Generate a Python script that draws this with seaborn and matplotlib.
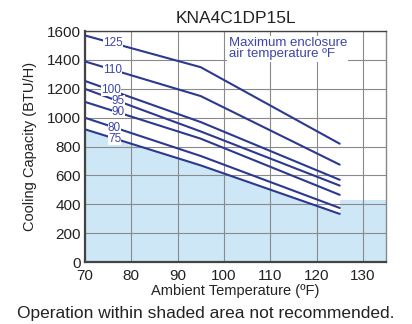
import pandas as pd
import matplotlib.pyplot as plt
import seaborn as sns

# Ambient temperature points (ºF) and capacity (BTU/H) per max enclosure temperature
ambient = [70, 95, 125]
enclosure_temps = ["125", "110", "100", "95", "90", "80", "75"]
cap_125 = [1570, 1350, 820]
cap_110 = [1390, 1150, 675]
cap_100 = [1255, 970, 570]
cap_95 = [1200, 905, 530]
cap_90 = [1110, 855, 466]
cap_80 = [1000, 735, 375]
cap_75 = [920, 670, 334]

# shaded "not recommended" area on the right
shade_right_x = [125, 135]
shade_right_y = [430, 430]

LINE = "#2b3990"
TXT = "#3d45a8"
SHADE = "#cde7f6"

curves = [cap_125, cap_110, cap_100, cap_95, cap_90, cap_80, cap_75]
df = pd.DataFrame({
    "ambient": ambient * len(curves),
    "capacity": [v for c in curves for v in c],
    "enc": [t for t in enclosure_temps for _ in ambient],
})

sns.set_style("white")
plt.rcParams['font.family'] = ['Liberation Sans', 'DejaVu Sans']

fig = plt.figure(figsize=(4.12, 3.24), dpi=100)
ax = fig.add_axes([0.206, 0.191, 0.731, 0.713])

# shading
ax.fill_between(ambient, 0, cap_75, color=SHADE, lw=0, zorder=0)
ax.fill_between(shade_right_x, 0, shade_right_y, color=SHADE, lw=0, zorder=0)

sns.lineplot(data=df, x="ambient", y="capacity", hue="enc",
             palette=[LINE] * len(curves), legend=False, lw=1.5, ax=ax, zorder=3)

# curve labels sitting on the lines
lab_x = [76, 76, 75.6, 77.2, 77.2, 76.4, 76.4]
for t, c, lx in zip(enclosure_temps, curves, lab_x):
    ly = c[0] + (c[1] - c[0]) * (lx - ambient[0]) / (ambient[1] - ambient[0])
    ax.text(lx, ly, t, color=TXT, fontsize=8.5, ha="center", va="center", zorder=4,
            bbox=dict(boxstyle="square,pad=0.0", fc="white", ec="none"))

ax.text(101, 1560, "Maximum enclosure\nair temperature ºF", color=TXT, fontsize=9.5,
        ha="left", va="top", linespacing=0.95, zorder=4,
        bbox=dict(boxstyle="square,pad=0.1", fc="white", ec="none"))

ax.set_xlim(70, 135)
ax.set_ylim(0, 1600)
ax.set_xticks(range(70, 131, 10))
ax.set_yticks(range(0, 1601, 200))
ax.grid(True, color="#8a8a8a", lw=0.8)
ax.set_axisbelow(True)
for s in ax.spines.values():
    s.set_color("#444444")
    s.set_linewidth(1.0)
ax.spines["left"].set_linewidth(1.6)
ax.spines["bottom"].set_linewidth(1.6)
ax.spines["right"].set_color("#888888")
ax.tick_params(length=0, labelsize=11, colors="#222222")
ax.tick_params(axis="x", pad=5)
ax.tick_params(axis="y", pad=3)

ax.set_title("KNA4C1DP15L", fontsize=12.5, pad=6, color="#222222")
ax.set_xlabel("Ambient Temperature (ºF)", fontsize=10.5, labelpad=1, color="#222222")
ax.set_ylabel("Cooling Capacity (BTU/H)", fontsize=10.5, labelpad=7, color="#222222")

fig.text(0.5, 0.02, "Operation within shaded area not recommended.", ha="center",
         fontsize=12.5, color="#222222")

fig.savefig("out.png", dpi=100)
